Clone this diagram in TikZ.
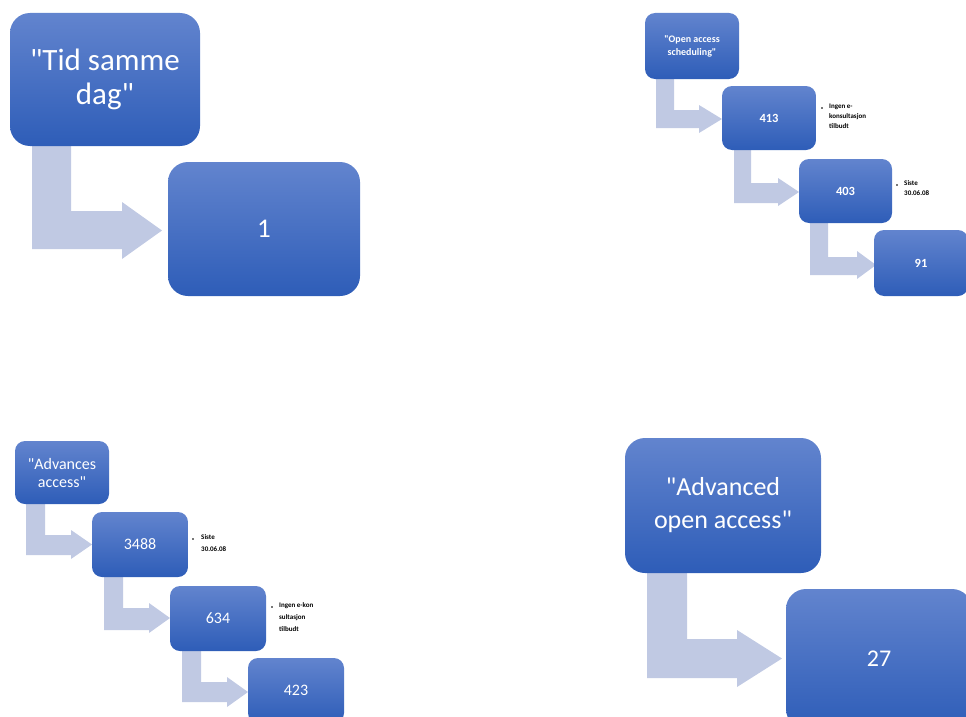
\documentclass[tikz,border=0pt]{standalone}
\usepackage{fontspec}
\setmainfont{Carlito}[Ligatures=TeXOff]
\newcommand\dq{"}
\definecolor{boxtop}{RGB}{98,132,206}
\definecolor{boxbot}{RGB}{46,93,184}
\definecolor{arrowc}{RGB}{192,201,227}
\definecolor{bulletc}{RGB}{120,120,120}
\newcommand\bentarr[9]{%
  \fill[arrowc] (#1,#3) -- (#2,#3) -- (#2,#4) -- (#6,#4) -- (#6,#7) -- (#9,{(#7+#8)/2}) -- (#6,#8) -- (#6,#5) -- (#1,#5) -- cycle;}
\tikzset{
  box/.style={shade, top color=boxtop, bottom color=boxbot, text=white, align=center, inner sep=0pt},
  bigbox/.style={box, rounded corners=20pt},
  smallbox/.style={box, rounded corners=10pt},
  side/.style={anchor=north west, align=left, inner sep=0pt, font=\fontsize{7}{10}\selectfont\bfseries},
  bul/.style={fill=bulletc, minimum size=2.5pt, inner sep=0pt}
}
\begin{document}
\begin{tikzpicture}[x=1pt,y=-1pt]
\useasboundingbox (0,0) rectangle (966,717);
\clip (0,0) rectangle (966,717);
% ---------- top-left ----------
\bentarr{32}{71}{140}{211}{249}{122}{202}{259}{162}
\node[bigbox, minimum width=190pt, minimum height=133pt, font=\fontsize{31}{34}\selectfont] (tid) at (105,79.5) {\dq Tid samme\\dag\dq};
\node[bigbox, minimum width=192pt, minimum height=134pt, font=\fontsize{27}{30}\selectfont] (one) at (264,229) {1};
% ---------- top-right ----------
\bentarr{656}{674}{75}{110}{128}{699}{105}{133}{722}
\bentarr{734}{751}{146}{183}{203}{778}{178}{206}{799}
\bentarr{810}{828}{219}{257}{275}{857}{251}{279}{876}
\node[smallbox, minimum width=94pt, minimum height=66pt, font=\fontsize{10}{13}\selectfont\bfseries] (oas) at (692,46) {\dq Open access\\scheduling\dq};
\node[smallbox, minimum width=94pt, minimum height=64pt, font=\fontsize{12.5}{14}\selectfont\bfseries] (n413) at (769,118) {413};
\node[smallbox, minimum width=93pt, minimum height=64pt, font=\fontsize{12.5}{14}\selectfont\bfseries] (n403) at (845.5,191) {403};
\node[smallbox, minimum width=94pt, minimum height=66pt, font=\fontsize{12.5}{14}\selectfont\bfseries] (n91) at (921,263) {91};
\node[bul] (b413) at (822,108) {};
\node[side] (s413) at (829,103.5) {Ingen e-\\konsultasjon\\tilbudt};
\node[bul] (b403) at (897,185) {};
\node[side] (s403) at (904,180.5) {Siste\\30.06.08};
% ---------- bottom-left ----------
\bentarr{26}{45}{499}{535}{555}{71}{530}{559}{92}
\bentarr{104}{123}{573}{608}{630}{149}{603}{633}{170}
\bentarr{182}{201}{647}{682}{702}{227}{677}{707}{248}
\node[smallbox, minimum width=94pt, minimum height=63pt, font=\fontsize{16}{18}\selectfont] (adv) at (62,472.5) {\dq Advances\\access\dq};
\node[smallbox, minimum width=96pt, minimum height=65pt, font=\fontsize{16}{18}\selectfont] (n3488) at (140,544.5) {3488};
\node[smallbox, minimum width=96pt, minimum height=65pt, font=\fontsize{16}{18}\selectfont] (n634) at (218,618.5) {634};
\node[smallbox, minimum width=96pt, minimum height=65pt, font=\fontsize{16}{18}\selectfont] (n423) at (296,690.5) {423};
\node[bul] (b3488) at (193,539) {};
\node[side, font=\fontsize{7}{12}\selectfont\bfseries] (s3488) at (201,534) {Siste\\30.06.08};
\node[bul] (b634) at (272,607) {};
\node[side, font=\fontsize{7}{12}\selectfont\bfseries] (s634) at (279,602) {Ingen e-kon\\sultasjon\\tilbudt};
% ---------- bottom-right ----------
\bentarr{647}{687}{567}{639}{678}{737}{630}{687}{782}
\node[bigbox, minimum width=196pt, minimum height=135pt, font=\fontsize{26}{33}\selectfont] (aoa) at (723,505.5) {\dq Advanced\\open access\dq};
\node[bigbox, minimum width=186pt, minimum height=140pt, font=\fontsize{24}{28}\selectfont] (n27) at (879,659) {27};
\end{tikzpicture}
\end{document}
